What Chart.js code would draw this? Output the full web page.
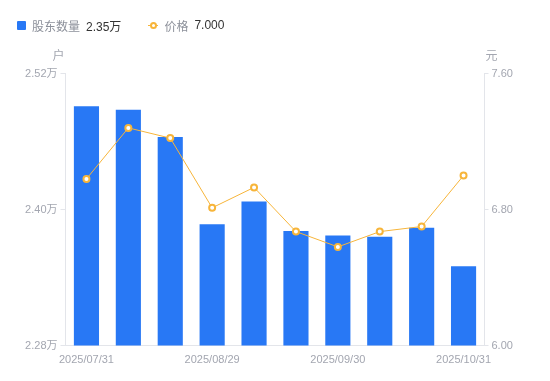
<!DOCTYPE html>
<html>
<head>
<meta charset="utf-8">
<script src="https://cdn.jsdelivr.net/npm/chart.js@4/dist/chart.umd.min.js"></script>
<style>
    html, body { margin: 0; padding: 0; background: #fff; }
    #wrap { position: relative; width: 550px; height: 381px; }
    #legend {
        position: absolute; left: 17px; top: 16px; height: 18px;
        font: 12px "Liberation Sans", "Noto Sans CJK SC", sans-serif;
        display: flex; align-items: center; white-space: nowrap;
    }
    .item { display: flex; align-items: center; margin-right: 27px; }
    .name { color: #8c909a; margin-right: 6px; }
    .val { color: #333; }
    .box { width: 9px; height: 9px; background: #2878f5; border-radius: 1px; margin-right: 6px; }
    .dot { position: relative; width: 10px; height: 9px; margin-right: 6px; }
    .dot:before { content: ''; position: absolute; left: 0; right: 0; top: 4px; height: 1px; background: #f7b53a; }
    .dot:after { content: ''; position: absolute; left: 1.5px; top: 1px; width: 3px; height: 3px; border: 2px solid #f7b53a; border-radius: 50%; background: #fff; }
</style>
</head>
<body>
<div id="wrap">
    <div id="legend"></div>
    <canvas id="chart" width="550" height="381"></canvas>
</div>
<script>
// Данные графика
const dates = ['2025/07/31', '2025/08/08', '2025/08/20', '2025/08/29', '2025/09/10',
               '2025/09/19', '2025/09/30', '2025/10/10', '2025/10/20', '2025/10/31'];
// Количество акционеров, в 万
const holders = [2.491, 2.488, 2.464, 2.387, 2.407, 2.381, 2.377, 2.376, 2.384, 2.35];
// Цена, 元
const prices = [6.98, 7.28, 7.22, 6.81, 6.93, 6.67, 6.58, 6.67, 6.70, 7.00];

const holderTicks = [2.28, 2.40, 2.52];
const priceTicks = [6.00, 6.80, 7.60];

const BLUE = '#2878f5';
const ORANGE = '#f7b53a';
const TICK_COLOR = '#a3a6b0';
const AXIS_COLOR = '#e3e5ea';
const FONT = '"Liberation Sans", "Noto Sans CJK SC", sans-serif';

// Легенда с последними значениями
document.getElementById('legend').innerHTML =
    '<div class="item"><span class="box"></span><span class="name">股东数量</span>' +
    '<span class="val">' + holders[holders.length - 1].toFixed(2) + '万</span></div>' +
    '<div class="item"><span class="dot"></span><span class="name">价格</span>' +
    '<span class="val">' + prices[prices.length - 1].toFixed(3) + '</span></div>';

// Подписи единиц над осями
const unitTitles = {
    id: 'unitTitles',
    afterDraw(chart) {
        const ctx = chart.ctx;
        const area = chart.chartArea;
        ctx.save();
        ctx.font = '12px ' + FONT;
        ctx.fillStyle = TICK_COLOR;
        ctx.textBaseline = 'middle';
        ctx.textAlign = 'right';
        ctx.fillText('户', area.left - 1, 57);
        ctx.textAlign = 'left';
        ctx.fillText('元', area.right + 1, 57);
        ctx.restore();
    }
};

new Chart(document.getElementById('chart'), {
    data: {
        labels: dates,
        datasets: [{
            type: 'line',
            label: '价格',
            data: prices,
            yAxisID: 'yPrice',
            borderColor: ORANGE,
            borderWidth: 1,
            pointRadius: 3,
            pointBorderWidth: 2,
            pointBackgroundColor: '#fff',
            pointBorderColor: ORANGE,
            tension: 0,
            order: 0
        }, {
            type: 'bar',
            label: '股东数量',
            data: holders,
            yAxisID: 'yHolders',
            backgroundColor: BLUE,
            categoryPercentage: 1,
            barPercentage: 0.6,
            order: 1
        }]
    },
    options: {
        responsive: false,
        animation: false,
        layout: { padding: { top: 73.5, left: 0, right: 0, bottom: 0 } },
        plugins: {
            legend: { display: false },
            tooltip: { enabled: false }
        },
        scales: {
            x: {
                offset: true,
                grid: { display: false },
                border: { display: true, color: AXIS_COLOR },
                ticks: {
                    autoSkip: false,
                    maxRotation: 0,
                    padding: 0,
                    color: TICK_COLOR,
                    font: { size: 11, family: FONT },
                    callback: function(value, index) {
                        // показываем каждую третью дату
                        return index % 3 === 0 ? this.getLabelForValue(value) : '';
                    }
                },
                afterFit(scale) { scale.height = 35.5; }
            },
            yHolders: {
                position: 'left',
                min: 2.28,
                max: 2.52,
                afterBuildTicks(scale) {
                    scale.ticks = holderTicks.map(v => ({ value: v }));
                },
                grid: { drawOnChartArea: false, tickLength: 5, color: AXIS_COLOR },
                border: { display: true, color: AXIS_COLOR },
                ticks: {
                    padding: 3,
                    color: TICK_COLOR,
                    font: { size: 11, family: FONT },
                    callback: value => value.toFixed(2) + '万'
                },
                afterFit(scale) { scale.width = 65.5; }
            },
            yPrice: {
                position: 'right',
                min: 6,
                max: 7.6,
                afterBuildTicks(scale) {
                    scale.ticks = priceTicks.map(v => ({ value: v }));
                },
                grid: { drawOnChartArea: false, tickLength: 4, color: AXIS_COLOR },
                border: { display: true, color: AXIS_COLOR },
                ticks: {
                    padding: 3,
                    color: TICK_COLOR,
                    font: { size: 11, family: FONT },
                    callback: value => value.toFixed(2)
                },
                afterFit(scale) { scale.width = 65.5; }
            }
        }
    },
    plugins: [unitTitles]
});
</script>
</body>
</html>
